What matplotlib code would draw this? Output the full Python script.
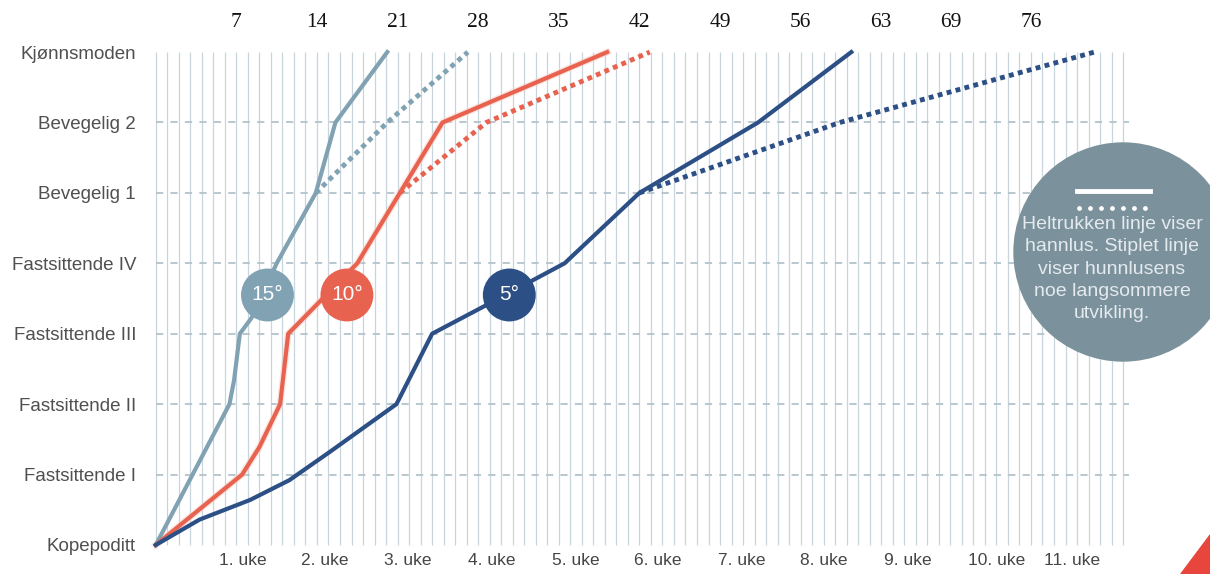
import matplotlib
matplotlib.use('Agg')
import matplotlib.pyplot as plt
from matplotlib.patches import Circle, Polygon

plt.rcParams['font.family'] = ['Liberation Sans', 'DejaVu Sans']

stages = ['Kopepoditt', 'Fastsittende I', 'Fastsittende II', 'Fastsittende III',
          'Fastsittende IV', 'Bevegelig 1', 'Bevegelig 2', 'Kjønnsmoden']

# days after copepodite stage
t15_male_days = [0, 6.4, 6.8, 7.3, 8.3, 10.5, 13.9, 15.6, 20.1]
t15_male_stage = [0, 2, 2.34, 3, 3.22, 4, 5, 6, 7]
t15_female_days = [13.9, 20.1, 27.1]
t15_female_stage = [5, 6, 7]

t10_male_days = [0, 7.5, 9.0, 10.8, 11.5, 17.5, 21.2, 24.9, 39.2]
t10_male_stage = [0, 1, 1.39, 2, 3, 4, 5, 6, 7]
t10_female_days = [21.2, 28.7, 42.9]
t10_female_stage = [5, 6, 7]

t5_male_days = [0, 3.8, 8.2, 11.6, 15.1, 20.9, 24.0, 28.4, 35.5, 42.0, 52.3, 60.4]
t5_male_stage = [0, 0.36, 0.64, 0.92, 1.32, 2, 3, 3.38, 4, 5, 6, 7]
t5_female_days = [42.0, 59.4, 81.5]
t5_female_stage = [5, 6, 7]

temp_labels = ['15°', '10°', '5°']
temp_days = [9.7, 16.6, 30.7]
temp_stage = [3.55, 3.55, 3.55]

top_days = [7, 14, 21, 28, 35, 42, 49, 56, 63, 69, 76]
week_labels = ['1. uke', '2. uke', '3. uke', '4. uke', '5. uke', '6. uke',
               '7. uke', '8. uke', '9. uke', '10. uke', '11. uke']
week_pos = [7.6, 14.7, 21.9, 29.2, 36.5, 43.6, 50.9, 58.0, 65.3, 73.0, 79.6]

c15 = '#80a2b3'
c10 = '#e8634f'
c5 = '#2c4f86'
grid_c = '#c8d5dc'

fig = plt.figure(figsize=(12.10, 5.74), dpi=100)
ax = fig.add_axes([150 / 1210, 22 / 574, 980 / 1210, 514 / 574])
ax.set_xlim(-0.5, 84.6)
ax.set_ylim(-0.1, 7.2)
for s in ax.spines.values():
    s.set_visible(False)

# grid: one line per day, dashed line per stage
ax.vlines(range(0, 85), 0, 7, color=grid_c, lw=0.9, zorder=1)
ax.hlines(range(1, 7), 0, 84.5, color='#b3c3cc', lw=1.3, linestyles=(0, (4, 4)), zorder=1)

lw = 3.0
dots = (0, (1, 0.9))
ax.plot(t15_male_days, t15_male_stage, color=c15, lw=lw, solid_joinstyle='round', zorder=3)
ax.plot(t15_female_days, t15_female_stage, color=c15, lw=3.5, linestyle=dots, zorder=3)
ax.plot(t10_male_days, t10_male_stage, color='#f9cfc8', lw=5, alpha=0.5, zorder=2)
ax.plot(t10_male_days, t10_male_stage, color=c10, lw=lw, solid_joinstyle='round', zorder=3)
ax.plot(t10_female_days, t10_female_stage, color=c10, lw=3.5, linestyle=dots, zorder=3)
ax.plot(t5_male_days, t5_male_stage, color=c5, lw=lw, solid_joinstyle='round', zorder=3)
ax.plot(t5_female_days, t5_female_stage, color=c5, lw=3.5, linestyle=dots, zorder=3)

ax.scatter(temp_days, temp_stage, s=1450, c=[c15, c10, c5], zorder=4, linewidths=0)
for d, st, lab in zip(temp_days, temp_stage, temp_labels):
    ax.text(d, st, lab, color='white', fontsize=15, ha='center', va='center', zorder=5)

ax.set_yticks(range(len(stages)), stages)
ax.set_xticks(week_pos, week_labels)
ax.tick_params(axis='y', length=0, pad=10, labelsize=13.5, labelcolor='#505050')
ax.tick_params(axis='x', length=0, pad=1, labelsize=12.5, labelcolor='#454545')

top = ax.secondary_xaxis('top')
top.set_xticks(top_days, [str(d) for d in top_days])
top.tick_params(length=0, pad=4)
for lab in top.get_xticklabels():
    lab.set_fontfamily('Liberation Serif')
    lab.set_fontsize(15.5)
    lab.set_color('#111111')
top.spines['top'].set_visible(False)

# legend disc on the right
tr = fig.dpi_scale_trans
fig.patches.append(Circle((11.23, 3.22), 1.09, transform=tr, color='#7b919c', zorder=6))
fig.lines.append(plt.Line2D([10.77, 11.50], [3.83, 3.83], transform=tr, color='white', lw=3.5, zorder=7))
fig.lines.append(plt.Line2D([10.79, 11.52], [3.66, 3.66], transform=tr, color='white', lw=3.5,
                            linestyle=(0, (0.01, 2.25)), dash_capstyle='round', zorder=7))
fig.text(11.12 / 12.10, 3.05 / 5.74,
         'Heltrukken linje viser\nhannlus. Stiplet linje\nviser hunnlusens\nnoe langsommere\nutvikling.',
         color='#e4eaee', fontsize=14, ha='center', va='center', linespacing=1.4, zorder=8)

# red corner mark
fig.patches.append(Polygon([(11.80, 0), (12.10, 0), (12.10, 0.40)], closed=True,
                           transform=tr, color='#e8453c', zorder=6))

fig.savefig('out.png', dpi=100)
